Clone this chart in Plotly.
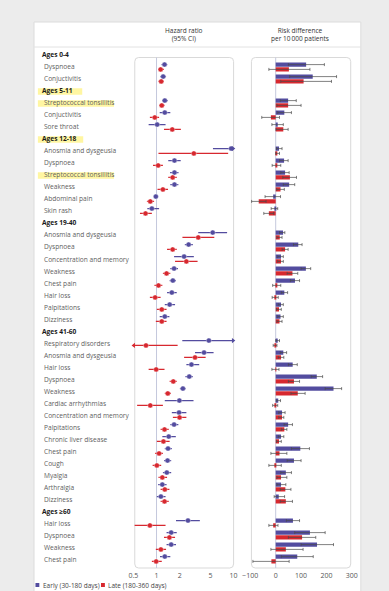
import math
import plotly.graph_objects as go

# ---- data -------------------------------------------------------------
rows = [
    "Ages 0-4", "Dyspnoea", "Conjuctivitis",
    "Ages 5-11", "Streptococcal tonsillitis", "Conjuctivitis", "Sore throat",
    "Ages 12-18", "Anosmia and dysgeusia", "Dyspnoea", "Streptococcal tonsillitis",
    "Weakness", "Abdominal pain", "Skin rash",
    "Ages 19-40", "Anosmia and dysgeusia", "Dyspnoea", "Concentration and memory",
    "Weakness", "Chest pain", "Hair loss", "Palpitations", "Dizziness",
    "Ages 41-60", "Respiratory disorders", "Anosmia and dysgeusia", "Hair loss",
    "Dyspnoea", "Weakness", "Cardiac arrhythmias", "Concentration and memory",
    "Palpitations", "Chronic liver disease", "Chest pain", "Cough", "Myalgia",
    "Arthralgia", "Dizziness",
    "Ages \u226560", "Hair loss", "Dyspnoea", "Weakness", "Chest pain",
]
highlighted = [3, 4, 7, 10]
N = None

# hazard ratios (95% CI), early and late follow-up
hr_early = [N, 1.27, 1.22, N, 1.28, 1.28, 1.02, N, 9.3, 1.71, 1.71, 1.71, 0.98, 0.87,
            N, 5.36, 2.61, 2.28, 1.69, 1.63, 1.58, 1.48, 1.28,
            N, 4.78, 4.14, 2.84, 2.66, 2.20, 1.98, 1.96, 1.69, 1.44, 1.41, 1.39, 1.36, 1.19, 1.14,
            N, 2.56, 1.55, 1.55, 1.28]
hr_early_lo = [N, 1.16, 1.12, N, 1.18, 1.10, 0.79, N, 5.4, 1.42, 1.50, 1.51, 0.93, 0.76,
               N, 3.48, 2.33, 1.69, 1.51, 1.48, 1.37, 1.28, 1.10,
               N, 2.16, 3.16, 2.44, 2.37, 2.01, 1.28, 1.58, 1.51, 1.19, 1.28, 1.25, 1.21, 1.05, 1.01,
               N, 1.79, 1.35, 1.35, 1.11]
hr_early_hi = [N, 1.38, 1.33, N, 1.40, 1.51, 1.31, N, 16.0, 2.06, 1.93, 1.92, 1.04, 1.08,
               N, 8.24, 2.96, 3.05, 1.90, 1.79, 1.83, 1.74, 1.47,
               N, 14.0, 5.50, 3.58, 2.96, 2.39, 3.02, 2.44, 1.92, 1.78, 1.58, 1.55, 1.55, 1.35, 1.31,
               N, 3.65, 1.83, 1.79, 1.51]
hr_late = [N, 1.13, 1.15, N, 1.17, 0.95, 1.60, N, 3.05, 1.05, 1.62, 1.21, 0.83, 0.72,
           N, 3.48, 1.62, 2.44, 1.35, 1.06, 0.96, 1.17, 1.17,
           N, 0.73, 3.16, 0.99, 1.65, 1.40, 0.83, 1.99, 1.27, 1.23, 1.08, 1.01, 1.19, 1.28, 1.27,
           N, 0.82, 1.47, 1.14, 0.99]
hr_late_lo = [N, 1.05, 1.06, N, 1.08, 0.82, 1.25, N, 1.06, 0.90, 1.42, 1.03, 0.75, 0.61,
              N, 2.17, 1.37, 1.74, 1.21, 0.94, 0.82, 1.01, 0.98,
              N, 0.40, 2.28, 0.79, 1.48, 1.28, 0.56, 1.63, 1.13, 1.01, 0.96, 0.89, 1.06, 1.13, 1.13,
              N, 0.52, 1.25, 0.98, 0.87]
hr_late_hi = [N, 1.25, 1.25, N, 1.27, 1.08, 2.07, N, 8.5, 1.21, 1.83, 1.41, 0.93, 0.87,
              N, 5.62, 1.83, 3.41, 1.51, 1.19, 1.13, 1.35, 1.35,
              N, 1.88, 4.34, 1.27, 1.83, 1.54, 1.21, 2.44, 1.44, 1.48, 1.21, 1.15, 1.37, 1.47, 1.44,
              N, 1.31, 1.74, 1.33, 1.17]

# risk difference per 10 000 patients (95% CI)
rd_early = [N, 120, 146, N, 49, 34, 8, N, 13, 33, 37, 53, -10, -5,
            N, 29, 89, 21, 119, 76, 34, 21, 19,
            N, 8, 30, 67, 162, 228, 10, 25, 49, 21, 97, 72, 40, 21, 12,
            N, 68, 135, 163, 85]
rd_early_lo = [N, 50, 55, N, 18, 8, -15, N, 3, 15, 20, 30, -42, -18,
               N, 15, 70, 8, 100, 58, 22, 10, 8,
               N, 0, 18, 50, 140, 195, 2, 12, 33, 10, 62, 45, 20, 5, -6,
               N, 42, 75, 100, 22]
rd_early_hi = [N, 192, 240, N, 81, 62, 30, N, 25, 49, 53, 75, 19, 8,
               N, 36, 104, 30, 138, 94, 47, 30, 30,
               N, 15, 43, 85, 185, 260, 19, 37, 66, 32, 133, 100, 62, 40, 35,
               N, 94, 195, 228, 148]
rd_late = [N, 52, 110, N, 49, -19, 30, N, 5, 3, 56, 19, -67, -27,
           N, 16, 37, 21, 66, 3, -2, 13, 15,
           N, -3, 21, 1, 72, 87, -3, 25, 34, 13, 15, -2, 21, 38, 40,
           N, -10, 104, 40, -17]
rd_late_lo = [N, -27, 20, N, 5, -55, 1, N, 0, -14, 28, 4, -95, -47,
              N, 5, 25, 8, 45, -12, -14, 3, 5,
              N, -10, 10, -15, 50, 60, -12, 12, 22, 3, -19, -27, 5, 18, 18,
              N, -27, 50, -19, -90]
rd_late_hi = [N, 135, 220, N, 100, 15, 49, N, 15, 20, 82, 34, -38, -8,
              N, 25, 49, 30, 87, 20, 10, 22, 25,
              N, 5, 32, 13, 94, 116, 8, 32, 44, 22, 44, 22, 44, 60, 66,
              N, 9, 158, 108, 53]

hr_ticks = [0.5, 1, 2, 5, 10]
hr_tick_text = ["0.5", "1", "2", "5", "10"]
rd_ticks = [-100, 0, 100, 200, 300]

# ---- styling ----------------------------------------------------------
W, H = 389, 591
EARLY = "#534c9f"
LATE = "#d7282f"
FONT = "Open Sans"
HR_MIN, HR_MAX = 0.5, 10


def px(x):
    return x / W


def py(y):
    return 1 - y / H


def rounded_rect(x0, y0, x1, y1, r=4):
    """SVG path for a rounded rectangle given in pixel coordinates."""
    X0, X1 = px(x0), px(x1)
    Y0, Y1 = py(y0), py(y1)
    rx, ry = r / W, r / H
    return (f"M {X0+rx},{Y0} L {X1-rx},{Y0} Q {X1},{Y0} {X1},{Y0-ry} "
            f"L {X1},{Y1+ry} Q {X1},{Y1} {X1-rx},{Y1} L {X0+rx},{Y1} "
            f"Q {X0},{Y1} {X0},{Y1+ry} L {X0},{Y0-ry} Q {X0},{Y0} {X0+rx},{Y0} Z")


idx = [i for i, v in enumerate(hr_early) if v is not None]
fig = go.Figure()

# ---- hazard ratio panel ----------------------------------------------
for vals, lo, hi, color, dy in [(hr_early, hr_early_lo, hr_early_hi, EARLY, -0.2),
                                (hr_late, hr_late_lo, hr_late_hi, LATE, 0.2)]:
    fig.add_trace(go.Scatter(
        x=[vals[i] for i in idx], y=[i + dy for i in idx],
        xaxis="x", yaxis="y", mode="markers",
        marker=dict(size=5, color=color, line=dict(width=0.6, color="rgba(255,255,255,0.6)")),
        error_x=dict(type="data", symmetric=False,
                     array=[hi[i] - vals[i] for i in idx],
                     arrayminus=[vals[i] - lo[i] for i in idx],
                     color=color, thickness=1.1, width=0),
        showlegend=False, hoverinfo="skip"))
    # arrowheads where the interval runs off the axis
    ax, ay, sym = [], [], []
    for i in idx:
        if hi[i] > HR_MAX:
            ax.append(HR_MAX * 0.985); ay.append(i + dy); sym.append("triangle-right")
        if lo[i] < HR_MIN:
            ax.append(HR_MIN * 1.015); ay.append(i + dy); sym.append("triangle-left")
    if ax:
        fig.add_trace(go.Scatter(x=ax, y=ay, xaxis="x", yaxis="y", mode="markers",
                                 marker=dict(size=4.5, color=color, symbol=sym),
                                 showlegend=False, hoverinfo="skip", cliponaxis=False))

# ---- risk difference panel -------------------------------------------
for vals, lo, hi, color, off in [(rd_early, rd_early_lo, rd_early_hi, EARLY, -0.37),
                                 (rd_late, rd_late_lo, rd_late_hi, LATE, 0.03)]:
    fig.add_trace(go.Bar(
        x=[vals[i] for i in idx], y=idx, orientation="h",
        xaxis="x2", yaxis="y", base=0, offset=off, width=0.34,
        marker=dict(color=color, line=dict(width=0)),
        showlegend=False, hoverinfo="skip"))
    fig.add_trace(go.Scatter(
        x=[vals[i] for i in idx], y=[i + off + 0.17 for i in idx],
        xaxis="x2", yaxis="y", mode="markers", marker=dict(size=0.1, color=color),
        error_x=dict(type="data", symmetric=False,
                     array=[hi[i] - vals[i] for i in idx],
                     arrayminus=[vals[i] - lo[i] for i in idx],
                     color="#4a4a4a", thickness=0.7, width=1.5),
        showlegend=False, hoverinfo="skip"))

# ---- shapes: card, panels, reference lines, highlights ---------------
shapes = [
    dict(type="rect", xref="paper", yref="paper", x0=px(27), x1=px(366), y0=py(600), y1=py(22),
         fillcolor="white", line=dict(color="#dcdcdc", width=1), layer="below"),
    dict(type="line", xref="paper", yref="paper", x0=px(27), x1=px(366), y0=py(47), y1=py(47),
         line=dict(color="#e2e2e2", width=1), layer="below"),
    dict(type="path", xref="paper", yref="paper", path=rounded_rect(131.5, 57.5, 234, 568),
         fillcolor="white", line=dict(color="#d9d9d9", width=1), layer="below"),
    dict(type="path", xref="paper", yref="paper", path=rounded_rect(252.5, 57.5, 355.5, 568),
         fillcolor="white", line=dict(color="#d9d9d9", width=1), layer="below"),
    dict(type="line", xref="x", yref="paper", x0=1, x1=1, y0=py(568), y1=py(57.5),
         line=dict(color="#c5c9dd", width=1), layer="below"),
    dict(type="line", xref="x2", yref="paper", x0=0, x1=0, y0=py(568), y1=py(57.5),
         line=dict(color="#c5c9dd", width=1), layer="below"),
]
hl_right = {3: 77, 4: 110, 7: 78, 10: 110}
for i in highlighted:
    shapes.append(dict(type="rect", xref="paper", yref="y", x0=px(31), x1=px(hl_right[i]),
                       y0=i - 0.22, y1=i + 0.32, fillcolor="rgba(255,238,70,0.5)",
                       line=dict(width=0), layer="below"))

# legend swatches
shapes.append(dict(type="rect", xref="paper", yref="paper", x0=px(28.5), x1=px(32.5),
                   y0=py(587), y1=py(583), fillcolor=EARLY, line=dict(width=0)))
shapes.append(dict(type="rect", xref="paper", yref="paper", x0=px(96.5), x1=px(100.5),
                   y0=py(587), y1=py(583), fillcolor=LATE, line=dict(width=0)))

# ---- text -------------------------------------------------------------
ann = []
for i, lab in enumerate(rows):
    head = lab.startswith("Ages")
    ann.append(dict(xref="paper", yref="y", x=px(33 if head else 35.5), y=i,
                    xanchor="left", yanchor="middle", showarrow=False,
                    text=f"<b>{lab}</b>" if head else lab,
                    font=dict(family=FONT, size=6.6, color="#1a1a1a" if head else "#5e5e5e")))

ann.append(dict(xref="paper", yref="paper", x=px(183), y=py(34), xanchor="center",
                yanchor="middle", showarrow=False, text="Hazard ratio<br>(95% CI)",
                font=dict(family=FONT, size=6.5, color="#333")))
ann.append(dict(xref="paper", yref="paper", x=px(303), y=py(34), xanchor="center",
                yanchor="middle", showarrow=False, text="Risk difference<br>per 10\u2009000 patients",
                font=dict(family=FONT, size=6.5, color="#333")))
ann.append(dict(xref="paper", yref="paper", x=px(34), y=py(585), xanchor="left",
                yanchor="middle", showarrow=False, text="Early (30-180 days)",
                font=dict(family=FONT, size=6.5, color="#444")))
ann.append(dict(xref="paper", yref="paper", x=px(102), y=py(585), xanchor="left",
                yanchor="middle", showarrow=False, text="Late (180-360 days)",
                font=dict(family=FONT, size=6.5, color="#444")))

axis_common = dict(showgrid=False, zeroline=False, showline=False, ticks="",
                   tickfont=dict(family=FONT, size=7, color="#555"), fixedrange=True)

fig.update_layout(
    width=W, height=H, margin=dict(l=0, r=0, t=0, b=0),
    paper_bgcolor="#ececec", plot_bgcolor="rgba(0,0,0,0)",
    barmode="overlay", showlegend=False,
    xaxis=dict(domain=[px(130), px(234)], type="log",
               range=[math.log10(HR_MIN), math.log10(HR_MAX)],
               tickvals=hr_ticks, ticktext=hr_tick_text, anchor="y", **axis_common),
    xaxis2=dict(domain=[px(251.4), px(356.6)], range=[-100, 300],
                tickvals=rd_ticks, anchor="y", **axis_common),
    yaxis=dict(domain=[py(570), py(50)], range=[(570 - 55) / 12, (50 - 55) / 12],
               visible=False, fixedrange=True),
    shapes=shapes, annotations=ann,
)

fig.write_html("out.html")
